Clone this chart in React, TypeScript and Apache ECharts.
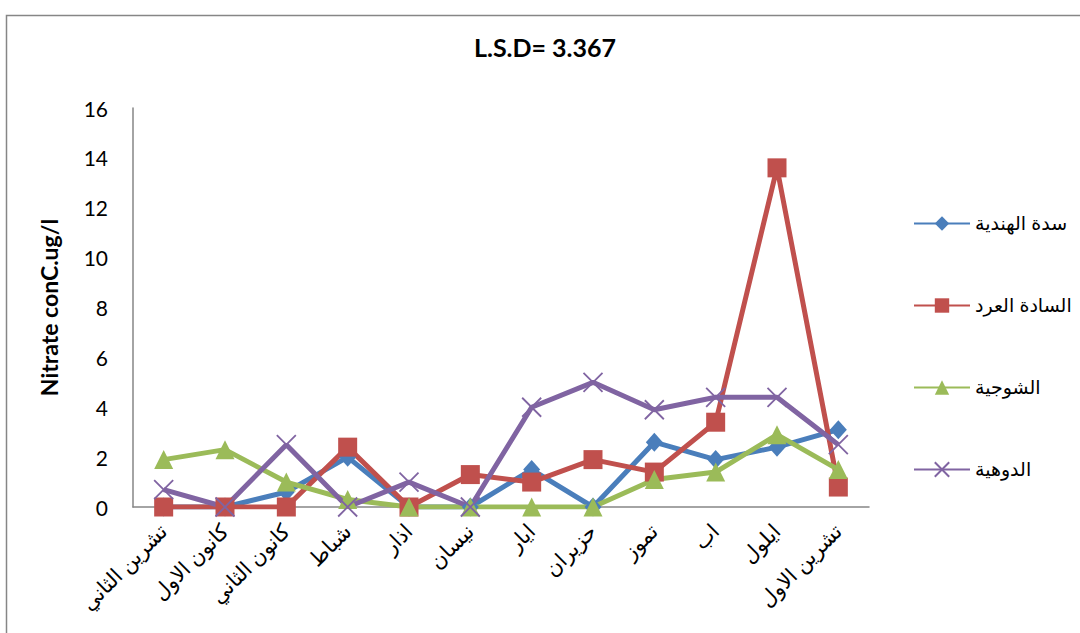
import React, { useEffect, useRef } from "react";
import * as echarts from "echarts";

// Months (Nov → Oct) along the category axis
const months = [
  "تشرين الثاني",
  "كانون الاول",
  "كانون الثاني",
  "شباط",
  "اذار",
  "نيسان",
  "ايار",
  "حزيران",
  "تموز",
  "اب",
  "ايلول",
  "تشرين الاول",
];

const seriesNames = ["سدة الهندية", "السادة العرد", "الشوجية ", "الدوهية"];

// Nitrate concentration (ug/l) per station
const hindiya = [0, 0, 0.6, 2.0, 0, 0, 1.5, 0, 2.6, 1.9, 2.4, 3.1];
const sadaAlArad = [0, 0, 0, 2.4, 0, 1.3, 1.0, 1.9, 1.4, 3.4, 13.6, 0.8];
const shawjiya = [1.9, 2.3, 1.0, 0.3, 0, 0, 0, 0, 1.1, 1.4, 2.9, 1.5];
const duwaihiya = [0.7, 0, 2.5, 0, 1.0, 0, 4.0, 5.0, 3.9, 4.4, 4.4, 2.5];

const yTicks = { min: 0, max: 16, interval: 2 };

const colors = ["#4A7EBB", "#C0504D", "#9BBB59", "#8064A2"];

export default function App() {
  const ref = useRef<HTMLDivElement>(null);

  useEffect(() => {
    if (!ref.current) return;
    const chart = echarts.init(ref.current, undefined, { renderer: "svg" });

    const lineSeries = (
      name: string,
      data: number[],
      color: string,
      symbol: string,
      symbolSize: number | number[],
      extraItem: any = {}
    ) => ({
      name,
      type: "line",
      data,
      symbol,
      symbolSize,
      showAllSymbol: true,
      lineStyle: { color, width: 5 },
      itemStyle: { color, ...extraItem },
      emphasis: { disabled: true },
      z: 2,
    });

    chart.setOption({
      animation: false,
      backgroundColor: "#ffffff",
      title: {
        text: "L.S.D= 3.367",
        left: 540,
        textAlign: "center",
        top: 29,
        textStyle: {
          fontFamily: "Lato, 'Open Sans', sans-serif",
          fontWeight: "bold",
          fontSize: 25,
          color: "#000",
        },
      },
      legend: {
        orient: "vertical",
        left: 908,
        top: 209,
        itemWidth: 56,
        itemHeight: 18,
        itemGap: 63,
        textStyle: {
          fontFamily: "Arial, 'DejaVu Sans', sans-serif",
          fontSize: 19,
          color: "#000",
        },
        data: seriesNames,
      },
      grid: { left: 133, right: 211, top: 108, bottom: 126 },
      xAxis: {
        type: "category",
        data: months,
        boundaryGap: true,
        axisLine: { lineStyle: { color: "#868686", width: 1.5 } },
        axisTick: { show: false },
        axisLabel: {
          rotate: 45,
          interval: 0,
          margin: 21,
          fontSize: 21,
          color: "#000",
          fontFamily: "'Times New Roman', 'DejaVu Sans', serif",
        },
      },
      yAxis: {
        type: "value",
        min: yTicks.min,
        max: yTicks.max,
        interval: yTicks.interval,
        name: "Nitrate conC.ug/l",
        nameLocation: "middle",
        nameGap: 73,
        nameTextStyle: {
          fontFamily: "Lato, 'Open Sans', sans-serif",
          fontWeight: "bold",
          fontSize: 23,
          color: "#000",
        },
        axisLine: { show: true, lineStyle: { color: "#868686", width: 1.5 } },
        axisTick: { show: false },
        splitLine: { show: false },
        axisLabel: {
          margin: 25,
          fontSize: 21,
          color: "#000",
          fontFamily: "Lato, 'Open Sans', sans-serif",
        },
      },
      graphic: [
        {
          type: "rect",
          shape: { x: 6.5, y: 15.5, width: 1100, height: 700 },
          style: { fill: "none", stroke: "#868686", lineWidth: 1.5 },
          silent: true,
          z: -1,
        },
      ],
      series: [
        lineSeries(seriesNames[0], hindiya, colors[0], "diamond", [17, 19]),
        lineSeries(seriesNames[1], sadaAlArad, colors[1], "rect", 19),
        lineSeries(seriesNames[2], shawjiya, colors[2], "triangle", 19),
        lineSeries(
          seriesNames[3],
          duwaihiya,
          colors[3],
          "path://M0,0L10,10M10,0L0,10",
          19,
          { borderColor: colors[3], borderWidth: 1.8 }
        ),
      ],
    });

    return () => chart.dispose();
  }, []);

  return (
    <div
      ref={ref}
      style={{ position: "fixed", left: 0, top: 0, width: 1080, height: 633 }}
    />
  );
}
